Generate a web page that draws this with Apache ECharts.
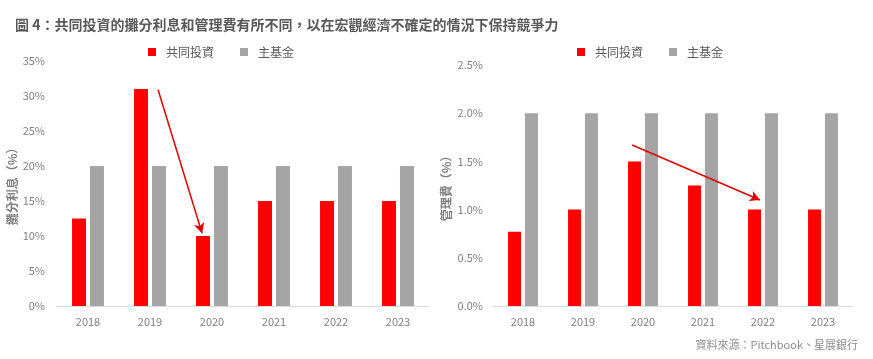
<!DOCTYPE html>
<html><head><meta charset="utf-8">
<script src="https://cdn.jsdelivr.net/npm/echarts@6/dist/echarts.min.js"></script>
<style>html,body{margin:0;padding:0;background:#fff}#c{width:873px;height:359px}</style>
</head><body><div id="c"></div>
<script>
const years = ['2018','2019','2020','2021','2022','2023'];
const carryCoInvest = [12.5, 31, 10, 15, 15, 15];
const carryMainFund = [20, 20, 20, 20, 20, 20];
const feeCoInvest = [0.77, 1.0, 1.5, 1.25, 1.0, 1.0];
const feeMainFund = [2.0, 2.0, 2.0, 2.0, 2.0, 2.0];
const carryArrow = [[1.13, 30.9], [1.84, 10.4]];
const feeArrow = [[1.82, 1.67], [3.95, 1.10]];
const seriesNames = ['共同投資', '主基金'];
const titleText = '圖 4：共同投資的攤分利息和管理費有所不同，以在宏觀經濟不確定的情況下保持競爭力';
const sourceText = '資料來源：Pitchbook、星展銀行';

const FONT = '"Noto Sans CJK TC", "Noto Sans", sans-serif';
const RED = '#ff0000', GRAY = '#a5a5a5', TXT = '#7f7f7f';

const chart = echarts.init(document.getElementById('c'), null, {renderer: 'canvas'});
function catAxis(gi) {
  return {type: 'category', gridIndex: gi, data: years,
    axisLine: {lineStyle: {color: '#d9d9d9'}}, axisTick: {show: false},
    axisLabel: {color: TXT, fontSize: 11, fontFamily: FONT, margin: 10}};
}
function hiddenX(gi) {
  return {type: 'value', gridIndex: gi, min: -0.5, max: 5.5, show: false};
}
function legendAt(x) {
  return {left: x, top: 41, itemWidth: 8, itemHeight: 8, itemGap: 26, icon: 'rect',
    data: seriesNames.map(n => ({name: n})),
    textStyle: {color: '#595959', fontSize: 12, fontFamily: FONT, padding: [0,0,0,5]}};
}
chart.setOption({
  animation: false,
  textStyle: {fontFamily: FONT},
  title: [{text: titleText, left: 10, top: 13,
    textStyle: {fontSize: 14, fontWeight: 'bold', color: '#595959', fontFamily: FONT}}],
  graphic: [{type: 'text', right: 15, top: 339,
    style: {text: sourceText, fill: '#8c8c8c', font: '11px ' + FONT}}],
  legend: [legendAt(143), legendAt(572)],
  grid: [
    {left: 57, right: 444, top: 61, bottom: 53},
    {left: 493, right: 20, top: 65, bottom: 53}
  ],
  xAxis: [catAxis(0), catAxis(1), hiddenX(0), hiddenX(1)],
  yAxis: [
    {type: 'value', gridIndex: 0, min: 0, max: 35, interval: 5,
     name: '攤分利息（%）', nameLocation: 'middle', nameGap: 34, nameRotate: 90,
     nameTextStyle: {color: TXT, fontSize: 12, fontWeight: 'bold', fontFamily: FONT},
     splitLine: {show: false}, axisLine: {show: false}, axisTick: {show: false},
     axisLabel: {color: TXT, fontSize: 11, fontFamily: FONT, margin: 12, formatter: v => v + '%'}},
    {type: 'value', gridIndex: 1, min: 0, max: 2.5, interval: 0.5,
     name: '管理費（%）', nameLocation: 'middle', nameGap: 41, nameRotate: 90,
     nameTextStyle: {color: TXT, fontSize: 12, fontWeight: 'bold', fontFamily: FONT},
     splitLine: {show: false}, axisLine: {show: false}, axisTick: {show: false},
     axisLabel: {color: TXT, fontSize: 11, fontFamily: FONT, margin: 10, formatter: v => v.toFixed(1) + '%'}}
  ],
  series: [
    {name: seriesNames[0], type: 'bar', xAxisIndex: 0, yAxisIndex: 0, data: carryCoInvest,
     barWidth: 14, barGap: '28%', itemStyle: {color: RED}},
    {name: seriesNames[1], type: 'bar', xAxisIndex: 0, yAxisIndex: 0, data: carryMainFund,
     barWidth: 14, barGap: '28%', itemStyle: {color: GRAY}},
    {name: seriesNames[0], type: 'bar', xAxisIndex: 1, yAxisIndex: 1, data: feeCoInvest,
     barWidth: 13, barGap: '30%', itemStyle: {color: RED}},
    {name: seriesNames[1], type: 'bar', xAxisIndex: 1, yAxisIndex: 1, data: feeMainFund,
     barWidth: 13, barGap: '30%', itemStyle: {color: GRAY}},
    {type: 'line', xAxisIndex: 2, yAxisIndex: 0, data: [], silent: true,
     markLine: {silent: true, symbol: ['none', 'arrow'], symbolSize: [8, 10], label: {show: false},
       lineStyle: {color: '#e00000', width: 1.5, type: 'solid'},
       data: [[{coord: carryArrow[0]}, {coord: carryArrow[1]}]]}},
    {type: 'line', xAxisIndex: 3, yAxisIndex: 1, data: [], silent: true,
     markLine: {silent: true, symbol: ['none', 'arrow'], symbolSize: [8, 10], label: {show: false},
       lineStyle: {color: '#e00000', width: 1.5, type: 'solid'},
       data: [[{coord: feeArrow[0]}, {coord: feeArrow[1]}]]}}
  ]
});
</script></body></html>
